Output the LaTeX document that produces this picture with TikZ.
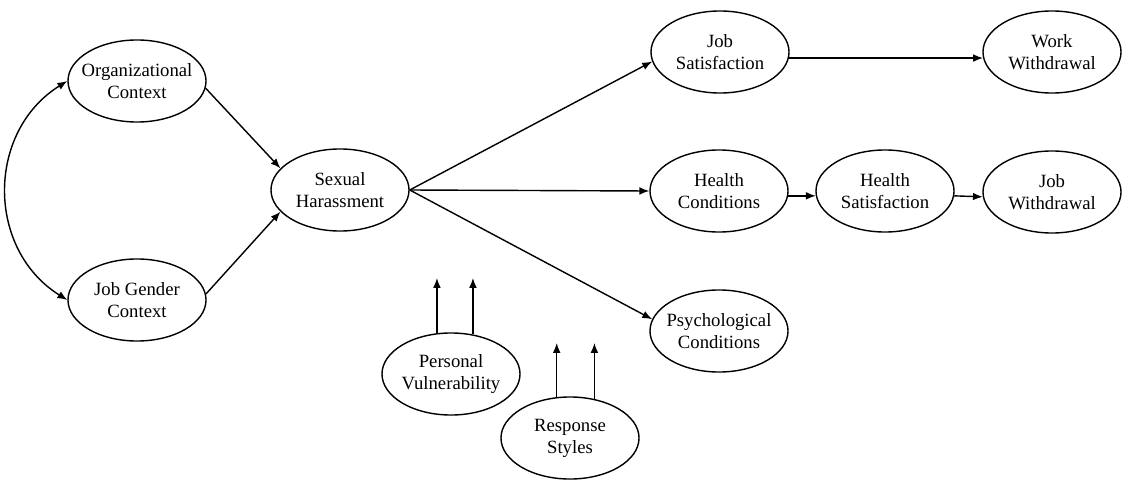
\documentclass[tikz,border=0pt]{standalone}
\usepackage{fontspec}
\setmainfont{Liberation Serif}
\usetikzlibrary{shapes.geometric,arrows.meta}

\begin{document}
\begin{tikzpicture}[x=0.025cm,y=-0.025cm]
    \tikzset{%
      var/.style={ellipse, draw, line width=1pt, inner xsep=-10pt,
        inner ysep=0pt, minimum width=3.45cm, minimum height=2.05cm,
        align=center, font=\fontsize{13.3}{15.5}\selectfont},
      arr/.style={line width=1pt, -{Latex[length=7pt,width=5.5pt]}},
      dblarr/.style={line width=1pt,
        {Latex[length=7pt,width=5.5pt]}-{Latex[length=7pt,width=5.5pt]}},
    }
    \useasboundingbox (0,0) rectangle (1122,479);

    % antecedents
    \node[var] (org) at (137,81) {Organizational\\Context};
    \node[var] (jgc) at (137,300) {Job Gender\\Context};
    \node[var] (sh) at (340,190) {Sexual\\Harassment};
    \draw [dblarr] (org.west) to[out=212,in=148,looseness=1.12] (jgc.west);
    \draw [arr] (org.-6) -- (sh.160);
    \draw [arr] (jgc.5) -- (sh.200);

    % outcomes
    \node[var] (js) at (720,52) {Job\\Satisfaction};
    \node[var] (ww) at (1052,52) {Work\\Withdrawal};
    \node[var] (hc) at (719,191) {Health\\Conditions};
    \node[var] (hs) at (885,191) {Health\\Satisfaction};
    \node[var] (jw) at (1052,192) {Job\\Withdrawal};
    \node[var] (pc) at (719,331) {Psychological\\Conditions};
    \draw [arr] (sh.east) -- (js.188);
    \draw [arr] (sh.east) -- (hc.west);
    \draw [arr] (sh.east) -- (pc.170);
    \draw [arr] (js.-5) -- (ww.185);
    \draw [arr] (hc.-4) -- (hs.184);
    \draw [arr] (hs.-4) -- (jw.184);

    % moderators
    \node[var] (pv) at (451,374) {Personal\\Vulnerability};
    \node[var] (rs) at (570,438) {Response\\Styles};
    \coordinate (pvtop) at (451,278);
    \coordinate (rstop) at (570,343);
    \draw [arr] (pv.109) -- (pv.109 |- pvtop);
    \draw [arr] (pv.61) -- (pv.61 |- pvtop);
    \draw [arr] (rs.108) -- (rs.108 |- rstop);
    \draw [arr] (rs.58) -- (rs.58 |- rstop);
  \end{tikzpicture}
\end{document}
